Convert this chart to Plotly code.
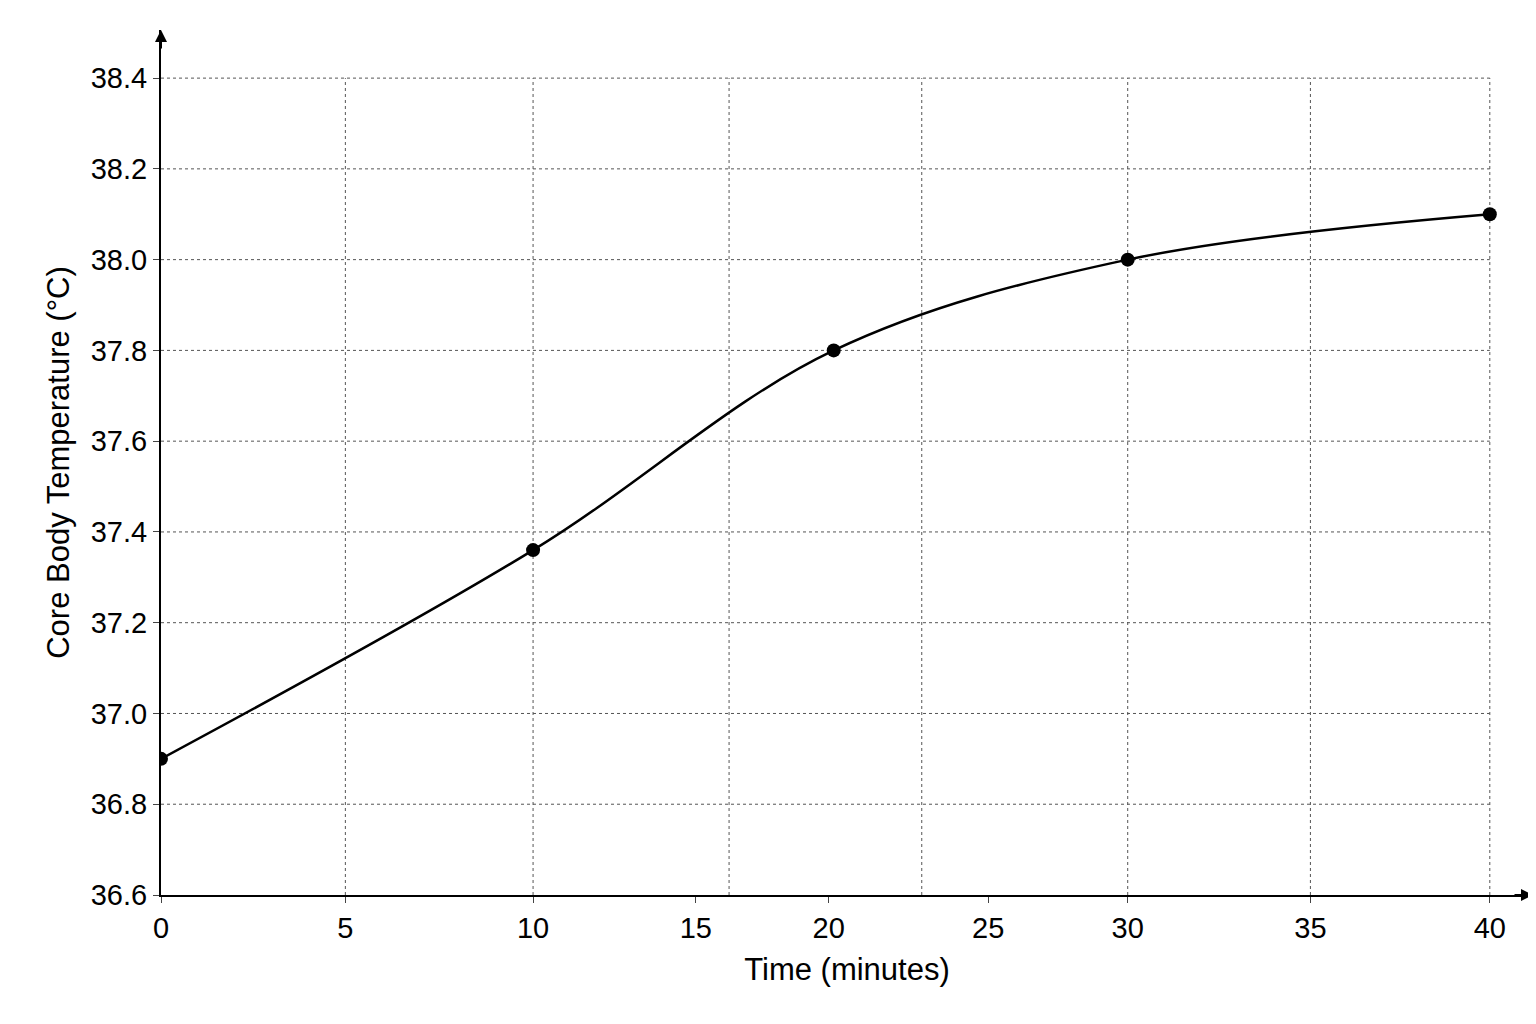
import plotly.graph_objects as go

# points as drawn (x position in axis units, temperature)
point_pos = [0, 11.2, 20.25, 29.1, 40]
temps = [36.9, 37.36, 37.8, 38.0, 38.1]

# tick labels and where they sit along the axis
tick_text = ["0", "5", "10", "15", "20", "25", "30", "35", "40"]
tick_pos = [0, 5.55, 11.2, 16.1, 20.1, 24.9, 29.1, 34.6, 40]
grid_x = [5.55, 11.2, 17.1, 22.9, 29.1, 34.6, 40]
y_ticks = [36.6, 36.8, 37.0, 37.2, 37.4, 37.6, 37.8, 38.0, 38.2, 38.4]

fig = go.Figure()
fig.add_trace(go.Scatter(x=point_pos, y=temps, mode="lines+markers",
                         line=dict(color="black", width=2.5, shape="spline", smoothing=1.0),
                         marker=dict(color="black", size=14)))

shapes = []
for gx in grid_x:
    shapes.append(dict(type="line", x0=gx, x1=gx, y0=36.6, y1=38.4, xref="x", yref="y",
                       line=dict(color="#555", width=1, dash="dot"), layer="below"))
for gy in y_ticks[1:]:
    shapes.append(dict(type="line", x0=0, x1=40, y0=gy, y1=gy, xref="x", yref="y",
                       line=dict(color="#555", width=1, dash="dot"), layer="below"))

fig.update_layout(
    width=1536, height=1024, showlegend=False,
    plot_bgcolor="white", paper_bgcolor="white",
    margin=dict(l=153, r=11, t=22, b=137),
    font=dict(family="Liberation Sans", size=30, color="black"),
    shapes=shapes,
    xaxis=dict(range=[0, 41.3], tickvals=tick_pos, ticktext=tick_text, showgrid=False,
               showline=True, linecolor="black", linewidth=2, ticks="outside", ticklen=6,
               tickfont=dict(size=29), zeroline=False,
               title=dict(text="Time (minutes)", standoff=16, font=dict(size=31))),
    yaxis=dict(range=[36.6, 38.506], tickvals=y_ticks, ticktext=[f"{v:.1f}" for v in y_ticks],
               showgrid=False, showline=True, linecolor="black", linewidth=2, ticks="outside",
               ticklen=6, tickfont=dict(size=29), zeroline=False,
               title=dict(text="Core Body Temperature (°C)", standoff=12, font=dict(size=31))),
    annotations=[
        dict(x=41.3, y=36.6, ax=-20, ay=0, xref="x", yref="y", text="", showarrow=True,
             arrowhead=2, arrowsize=1.2, arrowwidth=2, arrowcolor="black"),
        dict(x=0, y=38.506, ax=0, ay=20, xref="x", yref="y", text="", showarrow=True,
             arrowhead=2, arrowsize=1.2, arrowwidth=2, arrowcolor="black"),
    ],
)

fig.write_html("out.html")
